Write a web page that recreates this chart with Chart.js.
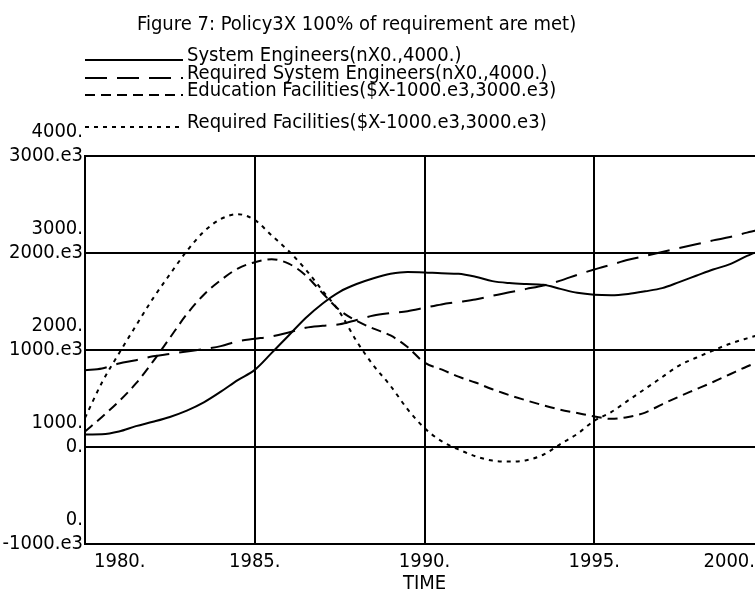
<!DOCTYPE html>
<html><head><meta charset="utf-8">
<script src="https://cdn.jsdelivr.net/npm/chart.js@4/dist/chart.umd.min.js"></script>
<style>
html,body{margin:0;padding:0;background:#fff;overflow:hidden;width:755px;height:603px}
#wrap{position:relative;width:775px;height:603px}
</style>
</head><body><div id="wrap"><canvas id="c" width="775" height="603"></canvas></div>
<script>
const titleText = "Figure 7: Policy3X 100% of requirement are met)";
const seriesLabels = [
  "System Engineers(nX0.,4000.)",
  "Required System Engineers(nX0.,4000.)",
  "Education Facilities($X-1000.e3,3000.e3)",
  "Required Facilities($X-1000.e3,3000.e3)"
];
const xTitle = "TIME";
const xTicks = [1980, 1985, 1990, 1995, 2000];
const yTicksEngineers = [0, 1000, 2000, 3000, 4000];
const yTicksFacilities = [-1000, 0, 1000, 2000, 3000];

const years = [1980,1980.5,1981,1981.5,1982,1982.5,1983,1983.5,1984,1984.5,1985,1985.5,1986,1986.5,1987,1987.5,1988,1988.5,1989,1989.5,1990,1990.5,1991,1991.5,1992,1992.5,1993,1993.5,1994,1994.5,1995,1995.5,1996,1996.5,1997,1997.5,1998,1998.5,1999,1999.5,2000];
// engineers (persons)
const systemEngineers = [1130,1132,1160,1215,1260,1310,1375,1460,1570,1690,1795,1970,2150,2330,2480,2600,2680,2740,2785,2805,2800,2790,2785,2755,2710,2690,2680,2672,2630,2590,2570,2565,2578,2605,2638,2700,2765,2830,2885,2970,3040];
const requiredSystemEngineers = [1790,1810,1860,1895,1935,1960,1985,2010,2040,2090,2115,2140,2180,2230,2250,2265,2310,2355,2380,2400,2435,2470,2495,2520,2560,2595,2630,2665,2715,2775,2830,2880,2930,2970,3010,3050,3090,3130,3165,3210,3250];
// facilities (thousand $)
const educationFacilities = [160,310,470,655,880,1125,1370,1570,1720,1840,1905,1935,1890,1770,1585,1410,1300,1220,1150,1030,870,800,725,665,595,535,480,430,385,350,315,290,310,355,440,520,595,670,750,830,900];
const requiredFacilities = [300,665,965,1250,1530,1780,2020,2220,2350,2400,2340,2180,2020,1830,1610,1390,1090,840,630,390,195,60,-25,-95,-140,-150,-136,-80,30,135,270,360,480,600,720,840,920,995,1065,1120,1170];

const FONT = "'DejaVu Sans Condensed','Liberation Sans',sans-serif";
const INK = '#000';

function pts(arr){ return years.map((x,i)=>({x:x, y:arr[i]})); }
function facLabel(v){ return v === 0 ? '0.' : v + '.e3'; }
function xLabel(v){
  if (v === xTicks[0]) return '\u2002' + v + '.';
  if (v === xTicks[xTicks.length - 1]) return v + '.\u2002';
  return v + '.';
}

const headerPlugin = {
  id: 'header',
  afterDraw(chart){
    const ctx = chart.ctx;
    ctx.save();
    ctx.fillStyle = INK;
    ctx.strokeStyle = INK;
    ctx.font = "20px " + FONT;
    ctx.textBaseline = 'middle';
    ctx.textAlign = 'left';
    ctx.fillText(titleText, 137, 25);
    const rows = [56, 74, 91, 123];
    chart.data.datasets.forEach((ds, i) => {
      const y = rows[i];
      ctx.lineWidth = 2;
      ctx.setLineDash(ds.borderDash || []);
      ctx.beginPath();
      ctx.moveTo(85, y + 4);
      ctx.lineTo(183, y + 4);
      ctx.stroke();
      ctx.setLineDash([]);
      ctx.fillText(ds.label, 187, y);
    });
    ctx.restore();
  }
};

new Chart(document.getElementById('c'), {
  type: 'line',
  data: {
    datasets: [
      {label: seriesLabels[0], data: pts(systemEngineers), yAxisID: 'y', borderDash: []},
      {label: seriesLabels[1], data: pts(requiredSystemEngineers), yAxisID: 'y', borderDash: [22, 10]},
      {label: seriesLabels[2], data: pts(educationFacilities), yAxisID: 'y2', borderDash: [10, 6]},
      {label: seriesLabels[3], data: pts(requiredFacilities), yAxisID: 'y2', borderDash: [4, 5]}
    ].map(d => Object.assign(d, {borderColor: INK, borderWidth: 2, pointRadius: 0, fill: false, cubicInterpolationMode: 'monotone'}))
  },
  options: {
    responsive: false,
    animation: false,
    layout: {padding: {top: 156, right: 11, bottom: 0, left: 0}},
    plugins: {legend: {display: false}, title: {display: false}, tooltip: {enabled: false}},
    scales: {
      x: {
        type: 'linear', min: 1980, max: 2000,
        afterBuildTicks(s){ s.ticks = xTicks.map(v => ({value: v})); },
        afterFit(s){ s.height = 59; },
        ticks: {callback: xLabel, align: 'inner', color: INK, font: {family: FONT, size: 20}, padding: 6, maxRotation: 0, autoSkip: false},
        grid: {color: INK, lineWidth: 2, drawTicks: false},
        border: {color: INK, width: 2},
        title: {display: true, text: xTitle, color: INK, font: {family: FONT, size: 20}, padding: {top: 0, bottom: 7}}
      },
      y: {
        type: 'linear', min: 0, max: 4000,
        afterBuildTicks(s){ s.ticks = yTicksEngineers.map(v => ({value: v})); },
        afterFit(s){ s.width = 85; },
        ticks: {
          callback: (v) => [v + '.', facLabel(yTicksFacilities[yTicksEngineers.indexOf(v)])],
          color: INK, font: {family: FONT, size: 20, lineHeight: 1.2}, padding: 2, labelOffset: -12, autoSkip: false
        },
        grid: {color: INK, lineWidth: 2, drawTicks: false},
        border: {color: INK, width: 2}
      },
      y2: {
        type: 'linear', min: -1000, max: 3000, display: false,
        afterBuildTicks(s){ s.ticks = yTicksFacilities.map(v => ({value: v})); }
      }
    }
  },
  plugins: [headerPlugin]
});
</script>
</body></html>
